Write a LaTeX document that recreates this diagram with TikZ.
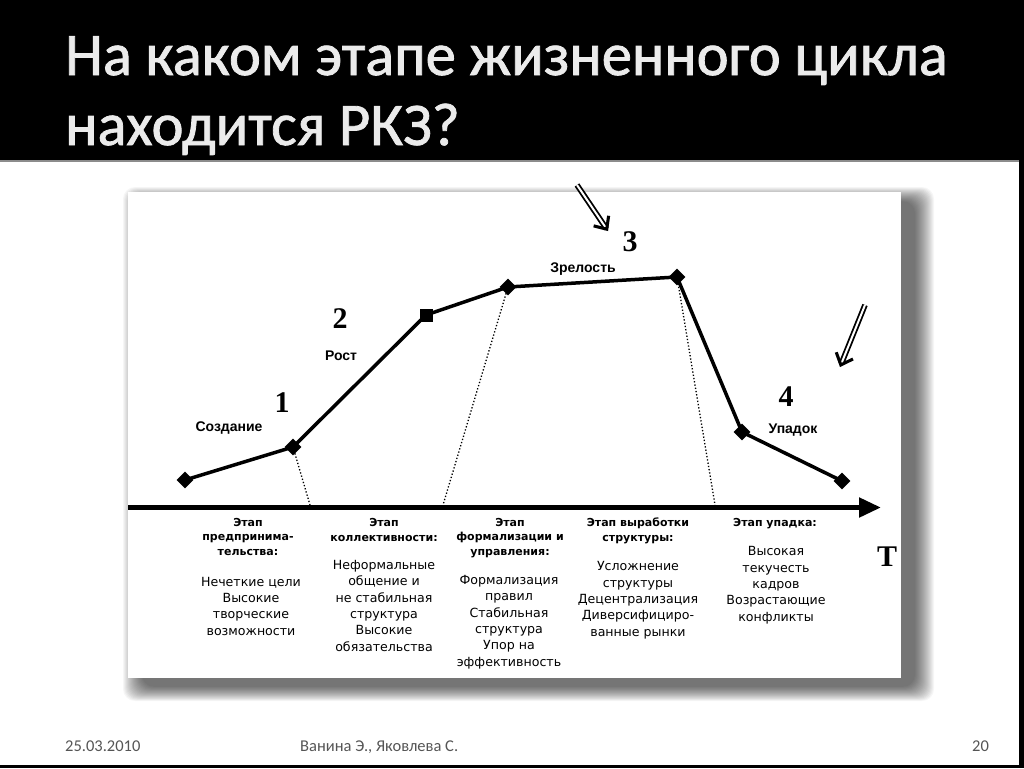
\documentclass[tikz,border=0pt]{standalone}
\usepackage{fontspec}
\usetikzlibrary{shapes.geometric,arrows.meta}
\newfontfamily\slidefont{Carlito}
\newfontfamily\headfont[FakeBold=1.3]{Carlito}
\newfontfamily\chartfont{Liberation Sans}
\newfontfamily\notefont{DejaVu Sans}
\newfontfamily\numfont{Liberation Serif}
\definecolor{footgray}{RGB}{85,85,85}
\definecolor{rulegray}{RGB}{140,140,140}
\definecolor{titlewhite}{RGB}{235,235,235}

\tikzset{
	marker/.style={diamond, fill=black, inner sep=0pt, minimum size=17pt},
	sqmarker/.style={rectangle, fill=black, inner sep=0pt, minimum size=13pt},
	curve/.style={line width=3.5pt, line join=round},
	dotline/.style={line width=1.3pt, dotted},
	stagenum/.style={font=\numfont\bfseries\fontsize{30}{30}\selectfont, inner sep=0pt},
	stagelbl/.style={font=\chartfont\bfseries\fontsize{14}{14}\selectfont, inner sep=0pt},
	colhead/.style={font=\notefont\bfseries\fontsize{11}{14.5}\selectfont, align=center, inner sep=0pt, anchor=base},
	colbody/.style={font=\notefont\fontsize{12.6}{16.3}\selectfont, align=center, inner sep=0pt, anchor=base},
	footer/.style={font=\slidefont\fontsize{16.5}{16.5}\selectfont, text=footgray, anchor=base west, inner sep=0pt},
	titletext/.style={font=\headfont\fontsize{60.5}{60.5}\selectfont, text=titlewhite, anchor=base west, inner sep=0pt},
	shaft/.style={line width=1.8pt, double=white, double distance=2pt},
	arrowhead/.style={line width=3pt, -{Straight Barb[length=10pt,width=18pt]}},
	shaftshadow/.style={line width=5pt, gray!40},
	headshadow/.style={line width=3pt, gray!40, -{Straight Barb[length=10pt,width=18pt]}}
}

\begin{document}
\begin{tikzpicture}[x=1pt,y=-1pt]
	\useasboundingbox (0,0) rectangle (1024,768);
	\fill[black] (0,0) rectangle (1024,768);
	\fill[white] (0,162) rectangle (1019,765);
	\draw[rulegray, line width=1.5pt] (0,161) -- (1019,161);
	
	\node[titletext] (title1) at (65,75) {На каком этапе жизненного цикла};
	\node[titletext] (title2) at (65,145) {находится РКЗ?};
	
	% card with its shadow
	\foreach \k in {0,...,19}
		\fill[black, opacity=0.035, rounded corners=12pt] (123+\k,187+0.75*\k) rectangle (934-\k,701-0.75*\k);
	\fill[white] (128,192) rectangle (901,678);
	
	\coordinate (ax0) at (128,507.5);
	\coordinate (ax1) at (881,507.5);
	\draw[line width=5pt, -{Triangle[length=22pt,width=19pt]}] (ax0) -- (ax1);
	
	\coordinate (d1) at (310,505);
	\coordinate (d2) at (443,505);
	\coordinate (d3) at (715,505);
	
	\node[marker] (p1) at (185,480) {};
	\node[marker] (p2) at (293,447) {};
	\node[sqmarker] (p3) at (426,315) {};
	\node[marker] (p4) at (508,287) {};
	\node[marker] (p5) at (677,277) {};
	\node[marker] (p6) at (742,432) {};
	\node[marker] (p7) at (842,481) {};
	\draw[curve] (p1.center) -- (p2.center) -- (p3.center) -- (p4.center) -- (p5.center) -- (p6.center) -- (p7.center);
	\draw[dotline] (p2.center) -- (d1);
	\draw[dotline] (p4.center) -- (d2);
	\draw[dotline] (p5.center) -- (d3);
	
	\node[stagenum] (n1) at (282,403) {1};
	\node[stagenum] (n2) at (340,319) {2};
	\node[stagenum] (n3) at (630,242) {3};
	\node[stagenum] (n4) at (786,397) {4};
	\node[stagenum] (tt) at (887,557) {T};
	\node[stagelbl] (l1) at (229,428) {Создание};
	\node[stagelbl] (l2) at (341,356) {Рост};
	\node[stagelbl] (l3) at (583,269) {Зрелость};
	\node[stagelbl] (l4) at (793,430) {Упадок};
	
	\coordinate (a1) at (577,185);
	\coordinate (c1) at (606.45,228.7);
	\coordinate (b1) at (608,231);
	\coordinate (a2) at (865,305);
	\coordinate (c2) at (841.25,363.9);
	\coordinate (b2) at (840,367);
	\begin{scope}[xshift=3pt, yshift=-3pt]
		\draw[shaftshadow] (a1) -- (c1);
		\draw[headshadow] (c1) -- (b1);
		\draw[shaftshadow] (a2) -- (c2);
		\draw[headshadow] (c2) -- (b2);
	\end{scope}
	\draw[shaft] (a1) -- (c1);
	\draw[arrowhead] (c1) -- (b1);
	\draw[shaft] (a2) -- (c2);
	\draw[arrowhead] (c2) -- (b2);
	
	\node[colhead] (h1) at (248,555) {Этап\\предпринима-\\тельства:};
	\node[colhead] (h2) at (384,541) {Этап\\коллективности:};
	\node[colhead] (h3) at (510,555) {Этап\\формализации и\\управления:};
	\node[colhead] (h4) at (638,541) {Этап выработки\\структуры:};
	\node[colhead] (h5) at (775,526) {Этап упадка:};
	\node[colbody] (c1) at (251,635) {Нечеткие цели\\Высокие\\творческие\\возможности};
	\node[colbody] (c2) at (384,651) {Неформальные\\общение и\\не стабильная\\структура\\Высокие\\обязательства};
	\node[colbody] (c3) at (509,666) {Формализация\\правил\\Стабильная\\структура\\Упор на\\эффективность};
	\node[colbody] (c4) at (638,636) {Усложнение\\структуры\\Децентрализация\\Диверсифициро-\\ванные рынки};
	\node[colbody] (c5) at (776,621) {Высокая\\текучесть\\кадров\\Возрастающие\\конфликты};
	
	\node[footer] (date) at (65,751) {25.03.2010};
	\node[footer] (authors) at (300,751) {Ванина Э., Яковлева С.};
	\node[footer] (page) at (972,751) {20};
\end{tikzpicture}
\end{document}
